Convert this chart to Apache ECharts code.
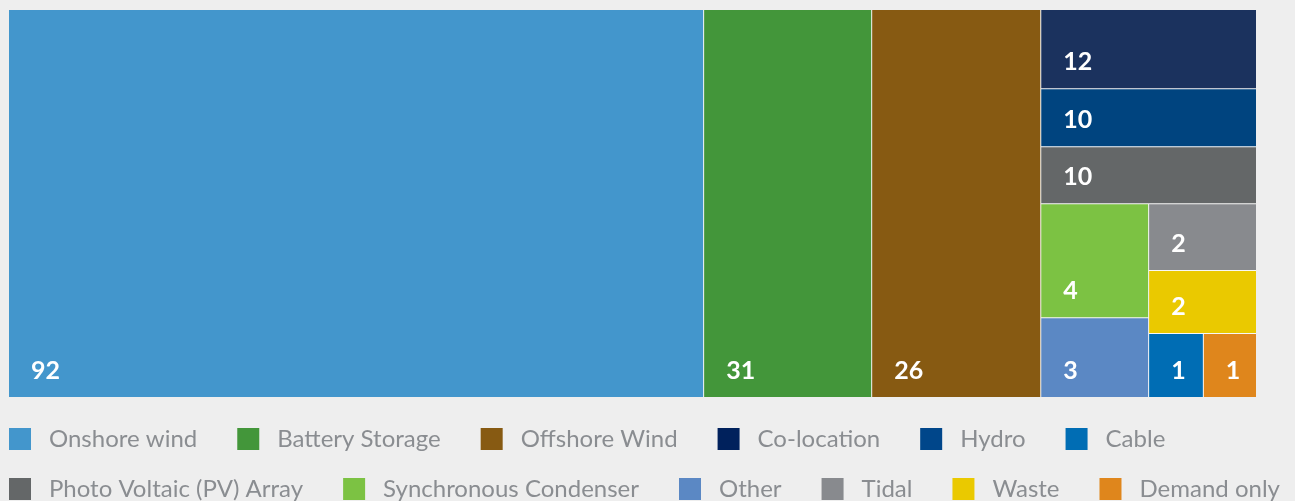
<!DOCTYPE html>
<html>
<head>
<meta charset="utf-8">
<script src="https://cdn.jsdelivr.net/npm/echarts@6/dist/echarts.min.js"></script>
<style>
  html, body { margin: 0; padding: 0; background: #eeeeee; }
  #chart { width: 1295px; height: 501px; }
</style>
</head>
<body>
<div id="chart"></div>
<script>
  // legend order
  const categories = ['Onshore wind', 'Battery Storage', 'Offshore Wind', 'Co-location', 'Hydro', 'Cable',
    'Photo Voltaic (PV) Array', 'Synchronous Condenser', 'Other', 'Tidal', 'Waste', 'Demand only'];
  // numbers written on the tiles
  const counts = [92, 31, 26, 12, 10, 1, 10, 4, 3, 2, 2, 1];
  // tile areas (relative units)
  const areaWeights = [2697, 652, 656, 171, 125, 35, 123, 123, 86, 72, 68, 34];
  const colors = ['#4396cc', '#43963a', '#875a12', '#1b325e', '#00447f', '#006db4',
    '#646768', '#7cc243', '#5b88c4', '#888a8e', '#eac900', '#df861c'];
  const legendColors = ['#4396cc', '#43963a', '#875a12', '#00215c', '#00468a', '#006db4',
    '#646768', '#7cc243', '#5b88c4', '#888a8e', '#eac900', '#df861c'];

  // how the tiles are grouped, outer to inner
  const nesting = [
    ['Onshore wind', 'Battery Storage'],
    ['Offshore Wind'],
    ['Co-location'],
    ['Hydro'],
    ['Photo Voltaic (PV) Array'],
    ['Synchronous Condenser', 'Other', 'Tidal', 'Waste', 'Cable', 'Demand only']
  ];

  function leaf(name) {
    const i = categories.indexOf(name);
    return { name: name, value: areaWeights[i], itemStyle: { color: colors[i] } };
  }

  let treeData = nesting[nesting.length - 1].map(leaf);
  for (let k = nesting.length - 2; k >= 0; k--) {
    treeData = nesting[k].map(leaf).concat([{ name: 'group' + k, children: treeData }]);
  }

  const legendBase = {
    left: 9,
    padding: 0,
    orient: 'horizontal',
    icon: 'rect',
    itemWidth: 22,
    itemHeight: 22,
    itemGap: 40,
    selectedMode: false,
    textStyle: {
      color: '#8a8d91',
      fontSize: 24,
      fontFamily: 'Lato',
      fontWeight: 'normal',
      padding: [0, 0, 0, 13]
    }
  };

  const option = {
    backgroundColor: '#eeeeee',
    legend: [
      Object.assign({}, legendBase, { top: 427, data: categories.slice(0, 6) }),
      Object.assign({}, legendBase, { top: 477, data: categories.slice(6) })
    ],
    series: [
      {
        type: 'treemap',
        left: 9,
        top: 10,
        width: 1247,
        height: 387,
        sort: false,
        squareRatio: 1.1,
        roam: false,
        nodeClick: false,
        breadcrumb: { show: false },
        itemStyle: {
          borderWidth: 0,
          gapWidth: 1,
          borderColor: '#f7f7f7'
        },
        label: {
          show: true,
          position: 'insideBottomLeft',
          distance: 9,
          offset: [8, 0],
          color: '#ffffff',
          fontSize: 25,
          fontWeight: 'bold',
          fontFamily: 'Lato',
          formatter: function (p) {
            return String(counts[categories.indexOf(p.name)]);
          }
        },
        upperLabel: { show: false },
        data: treeData
      },
      {
        // only feeds the legend
        type: 'pie',
        radius: [0, 0],
        silent: true,
        label: { show: false },
        labelLine: { show: false },
        data: categories.map(function (n, i) {
          return { name: n, value: counts[i], itemStyle: { color: legendColors[i] } };
        })
      }
    ]
  };

  const chart = echarts.init(document.getElementById('chart'));
  chart.setOption(option);
</script>
</body>
</html>
